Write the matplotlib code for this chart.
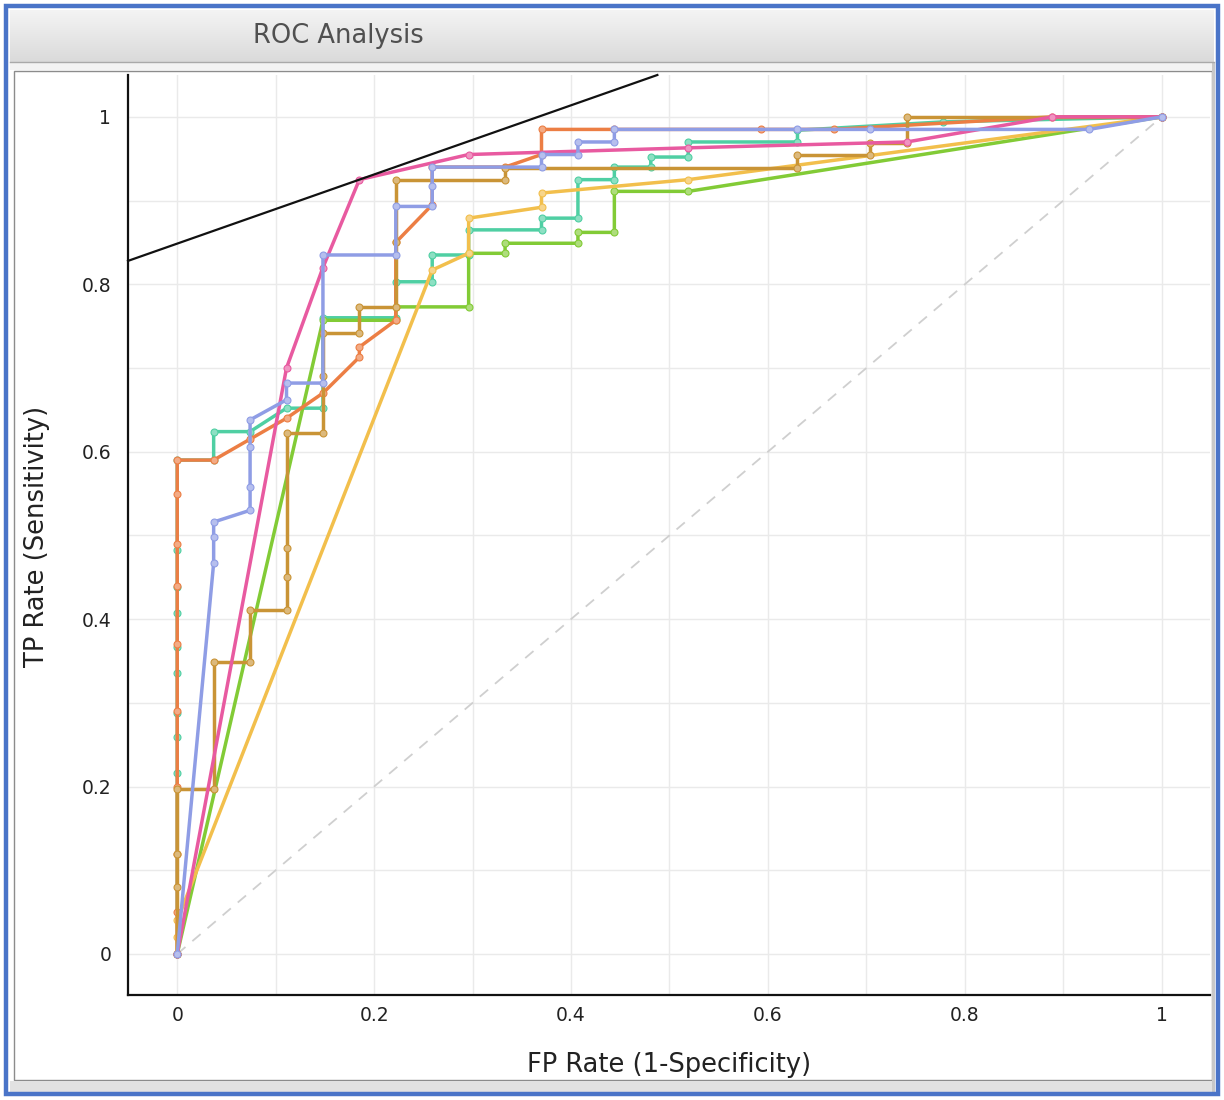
import matplotlib
matplotlib.use("Agg")
import matplotlib.pyplot as plt
import numpy as np
from matplotlib.patches import Rectangle
from matplotlib.lines import Line2D
from matplotlib.colors import to_rgb
from matplotlib.ticker import FuncFormatter, MultipleLocator

# ---------------- data ----------------
coral_fpr = [0, 0, 0, 0, 0, 0, 0, 0, 0, 0, 0.037, 0.074, 0.111, 0.148, 0.185, 0.185, 0.222,
             0.222, 0.259, 0.259, 0.333, 0.370, 0.370, 0.444, 0.593, 0.667, 0.889, 1.0]
coral_tpr = [0, 0.05, 0.12, 0.20, 0.29, 0.37, 0.44, 0.49, 0.55, 0.59, 0.59, 0.615, 0.64, 0.67,
             0.713, 0.725, 0.757, 0.85, 0.895, 0.94, 0.94, 0.955, 0.985, 0.985, 0.985, 0.985, 1.0, 1.0]

lavender_fpr = [0, 0.037, 0.037, 0.037, 0.074, 0.074, 0.074, 0.074, 0.111, 0.111, 0.148, 0.148,
                0.222, 0.222, 0.259, 0.259, 0.259, 0.370, 0.370, 0.407, 0.407, 0.444, 0.444,
                0.630, 0.704, 0.926, 1.0]
lavender_tpr = [0, 0.467, 0.498, 0.516, 0.530, 0.558, 0.606, 0.638, 0.662, 0.682, 0.682, 0.835,
                0.835, 0.893, 0.893, 0.917, 0.94, 0.94, 0.955, 0.955, 0.97, 0.97, 0.985,
                0.985, 0.985, 0.985, 1.0]

teal_fpr = [0, 0, 0, 0, 0, 0, 0, 0, 0, 0, 0.037, 0.037, 0.074, 0.111, 0.148, 0.148, 0.222, 0.222,
            0.259, 0.259, 0.296, 0.296, 0.370, 0.370, 0.407, 0.407, 0.444, 0.444, 0.481, 0.481,
            0.519, 0.519, 0.630, 0.630, 0.778, 1.0]
teal_tpr = [0, 0.216, 0.259, 0.288, 0.336, 0.367, 0.407, 0.438, 0.483, 0.59, 0.59, 0.624, 0.624,
            0.652, 0.652, 0.76, 0.76, 0.803, 0.803, 0.835, 0.835, 0.865, 0.865, 0.879, 0.879,
            0.925, 0.925, 0.94, 0.94, 0.952, 0.952, 0.97, 0.97, 0.984, 0.994, 1.0]

pink_fpr = [0, 0.111, 0.148, 0.185, 0.296, 0.519, 0.741, 0.889, 1.0]
pink_tpr = [0, 0.70, 0.82, 0.925, 0.955, 0.963, 0.970, 1.0, 1.0]

lime_fpr = [0, 0.148, 0.222, 0.222, 0.296, 0.296, 0.333, 0.333, 0.407, 0.407, 0.444, 0.444, 0.519, 1.0]
lime_tpr = [0, 0.757, 0.757, 0.773, 0.773, 0.837, 0.837, 0.849, 0.849, 0.862, 0.862, 0.911, 0.911, 1.0]

brown_fpr = [0, 0, 0, 0, 0.037, 0.037, 0.074, 0.074, 0.111, 0.111, 0.111, 0.111, 0.148, 0.148,
             0.148, 0.185, 0.185, 0.222, 0.222, 0.222, 0.333, 0.333, 0.630, 0.630, 0.704, 0.704,
             0.741, 0.741, 1.0]
brown_tpr = [0, 0.08, 0.12, 0.197, 0.197, 0.349, 0.349, 0.411, 0.411, 0.45, 0.485, 0.622, 0.622,
             0.69, 0.742, 0.742, 0.773, 0.773, 0.85, 0.925, 0.925, 0.939, 0.939, 0.955, 0.955,
             0.969, 0.969, 1.0, 1.0]

yellow_fpr = [0, 0, 0, 0.259, 0.296, 0.296, 0.370, 0.370, 0.519, 1.0]
yellow_tpr = [0, 0.02, 0.04, 0.817, 0.837, 0.879, 0.892, 0.909, 0.925, 1.0]

# optimal operating point tangent line
tangent_point = (0.185, 0.925)
tangent_slope = 0.413

tick_values = [0, 0.2, 0.4, 0.6, 0.8, 1.0]
x_label = "FP Rate (1-Specificity)"
y_label = "TP Rate (Sensitivity)"
window_title = "ROC Analysis"

# ---------------- figure ----------------
W, H = 1224, 1100
fig = plt.figure(figsize=(W / 100, H / 100), dpi=100)
fig.patch.set_facecolor("white")
plt.rcParams["font.family"] = ["DejaVu Sans"]


def fr(x0, y0, x1, y1):
    """pixel box (top-left origin) -> figure fraction rect"""
    return (x0 / W, 1 - y1 / H, (x1 - x0) / W, (y1 - y0) / H)


# title bar gradient
tb = fig.add_axes(fr(10, 10, 1214, 62))
grad = np.linspace(0, 1, 64).reshape(-1, 1)
top_c = np.array(to_rgb("#F4F4F4"))
bot_c = np.array(to_rgb("#DADADA"))
img = top_c[None, None, :] * (1 - grad[:, :, None]) + bot_c[None, None, :] * grad[:, :, None]
tb.imshow(img, aspect="auto", extent=(0, 1, 0, 1))
tb.set_axis_off()
fig.text(253 / W, 1 - 36 / H, window_title, fontsize=18.5, color="#505050", ha="left", va="center")
fig.add_artist(Line2D([10 / W, 1214 / W], [1 - 62 / H, 1 - 62 / H], color="#A9A9A9", lw=1,
                      transform=fig.transFigure))

# light band + panel border
lb = fr(10, 63, 1214, 70)
fig.add_artist(Rectangle(lb[:2], lb[2], lb[3], transform=fig.transFigure, facecolor="#F3F3F3",
                         edgecolor="none"))
pb = fr(14, 71, 1212, 1080)
fig.add_artist(Rectangle(pb[:2], pb[2], pb[3], transform=fig.transFigure, facecolor="none",
                         edgecolor="#8C8C8C", lw=1))
# bottom bar
bb = fr(10, 1081, 1214, 1092)
fig.add_artist(Rectangle(bb[:2], bb[2], bb[3], transform=fig.transFigure, facecolor="#E2E2E2",
                         edgecolor="none"))
# right scrollbar strip
rs = fr(1212, 63, 1215, 1092)
fig.add_artist(Rectangle(rs[:2], rs[2], rs[3], transform=fig.transFigure, facecolor="#C8C8C8",
                         edgecolor="none"))
# blue outer frame
ob = fr(6, 6, 1218, 1094)
fig.add_artist(Rectangle(ob[:2], ob[2], ob[3], transform=fig.transFigure, facecolor="none",
                         edgecolor="#4A74C8", lw=3.2))

# ---------------- main axes ----------------
ax = fig.add_axes(fr(128, 75, 1210, 995))
ax.set_xlim(-0.05, 1.049)
ax.set_ylim(-0.049, 1.05)
for s in ["top", "right"]:
    ax.spines[s].set_visible(False)
for s in ["left", "bottom"]:
    ax.spines[s].set_color("#111111")
    ax.spines[s].set_linewidth(1.6)

ax.xaxis.set_minor_locator(MultipleLocator(0.1))
ax.yaxis.set_minor_locator(MultipleLocator(0.1))
ax.set_xticks(tick_values)
ax.set_yticks(tick_values)
fmt = FuncFormatter(lambda v, p: ("%g" % round(v, 2)))
ax.xaxis.set_major_formatter(fmt)
ax.yaxis.set_major_formatter(fmt)
ax.grid(True, which="both", color="#EAEAEA", lw=1)
ax.set_axisbelow(True)
ax.tick_params(axis="both", which="both", length=0, labelsize=13.5, colors="#222222")
ax.tick_params(axis="y", pad=12)
ax.tick_params(axis="x", pad=8)

ax.set_xlabel(x_label, fontsize=18.5, color="#222222")
ax.set_ylabel(y_label, fontsize=18.5, color="#222222")
ax.xaxis.set_label_coords(0.5, -0.076)
ax.xaxis.label.set_va("center")
ax.yaxis.set_label_coords(-0.084, 0.498)
ax.yaxis.label.set_va("center")

# chance diagonal
ax.plot([0, 1], [0, 1], color="#CFCFCF", lw=1.3, ls=(0, (6, 5)), zorder=1)


def lighten(c, f=0.35):
    r = np.array(to_rgb(c))
    return tuple(r + (1 - r) * f)


curves = [
    (teal_fpr, teal_tpr, "#4FCFA3"),
    (lime_fpr, lime_tpr, "#82CB36"),
    (yellow_fpr, yellow_tpr, "#F2BF4C"),
    (coral_fpr, coral_tpr, "#EC7E44"),
    (brown_fpr, brown_tpr, "#C99436"),
    (pink_fpr, pink_tpr, "#E85AA0"),
    (lavender_fpr, lavender_tpr, "#8F9DE5"),
]
for i, (xs, ys, c) in enumerate(curves):
    ax.plot(xs, ys, color=c, lw=2.5, marker="o", markersize=5, markerfacecolor=lighten(c),
            markeredgecolor=c, markeredgewidth=0.8, zorder=3 + i, solid_joinstyle="round")

# tangent line through optimal point
x0, x1 = ax.get_xlim()
ty = lambda x: tangent_point[1] + tangent_slope * (x - tangent_point[0])
x_end = tangent_point[0] + (ax.get_ylim()[1] - tangent_point[1]) / tangent_slope
ax.plot([x0, x_end], [ty(x0), ty(x_end)], color="#111111", lw=1.6, zorder=20, clip_on=False)

fig.savefig("out.png", dpi=100)
